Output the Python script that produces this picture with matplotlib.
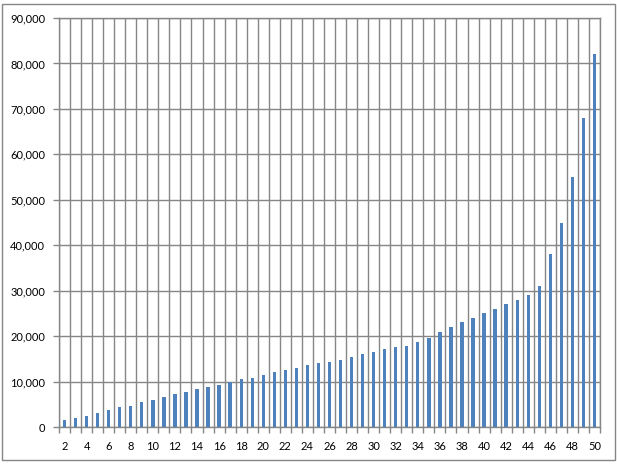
import numpy as np
import matplotlib.pyplot as plt
from matplotlib.patches import Rectangle
from matplotlib.ticker import FuncFormatter, MultipleLocator, FixedLocator

# data
categories = list(range(2, 51))
values = [1500, 2000, 2500, 3000, 3700, 4500, 4700, 5400, 6000, 6500,
          7200, 7600, 8300, 8700, 9200, 10000, 10500, 10700, 11400, 12100,
          12500, 13000, 13600, 14000, 14400, 14850, 15500, 16000, 16400, 17100,
          17500, 17900, 18600, 19500, 21000, 21900, 23000, 23900, 25000, 25900,
          27000, 27900, 29000, 31000, 38000, 45000, 55000, 68000, 82000]

grid_col = '#868686'
bar_col = '#4F81BD'

plt.rcParams['font.family'] = ['Lato', 'DejaVu Sans']

fig = plt.figure(figsize=(6.17, 4.65), dpi=100)
ax = fig.add_axes([59/617, 1 - 427/465, 541/617, 409/465])

x = np.arange(len(categories))
ax.bar(x, values, width=0.3, color=bar_col, zorder=3)

ax.set_xlim(-0.5, len(categories) - 0.5)
ax.set_ylim(0, 90000)

# y axis
ax.yaxis.set_major_locator(MultipleLocator(10000))
ax.yaxis.set_major_formatter(FuncFormatter(lambda v, p: f'{int(v):,}'))
ax.grid(axis='y', which='major', color=grid_col, linewidth=1.0, zorder=0)

# x axis: labels every 2nd category, ticks/grid at category boundaries
ax.xaxis.set_major_locator(FixedLocator(x[::2]))
ax.set_xticklabels([str(c) for c in categories[::2]])
ax.xaxis.set_minor_locator(FixedLocator(np.arange(len(categories) + 1) - 0.5))
ax.grid(axis='x', which='minor', color=grid_col, linewidth=1.0, zorder=0)
ax.tick_params(axis='x', which='major', length=0, pad=10, labelsize=8)
ax.tick_params(axis='x', which='minor', length=4, width=1.0, color=grid_col)
ax.tick_params(axis='y', which='major', length=4, width=1.0, color=grid_col,
               pad=6, labelsize=8)

for s in ax.spines.values():
    s.set_color(grid_col)
    s.set_linewidth(1.0)

# outer chart border
fig.patches.append(Rectangle((2/617, 1 - 460/465), 613/617, 456/465,
                             transform=fig.transFigure, fill=False,
                             edgecolor=grid_col, linewidth=1.0))

fig.savefig('out.png', dpi=100)
